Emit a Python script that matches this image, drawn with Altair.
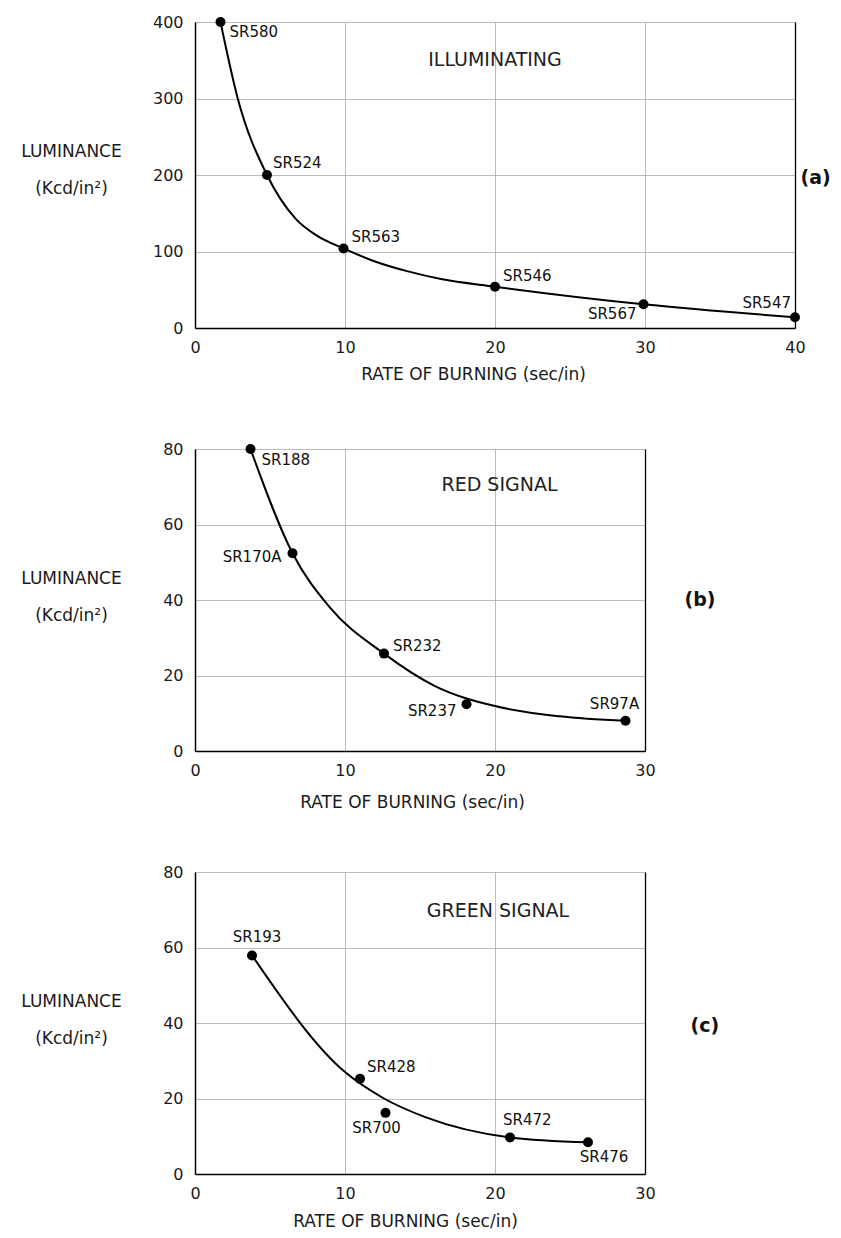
import altair as alt
import pandas as pd

FONT = "DejaVu Sans"

# ---------------- Panel (a): ILLUMINATING ----------------
a_names = ["SR580", "SR524", "SR563", "SR546", "SR567", "SR547"]
a_rate = [1.7, 4.8, 9.9, 20.0, 29.9, 40.0]
a_lum = [400, 200, 104, 54, 31, 14]
# smooth fitted curve
a_curve_rate = [1.7, 2.85, 4.8, 6.7, 8.1, 9.9, 12.0, 14.2, 16.4, 20.0, 29.9, 40.0]
a_curve_lum = [400, 300, 200, 143, 121, 104, 87, 74, 64, 54, 31, 14]

# ---------------- Panel (b): RED SIGNAL ----------------
b_names = ["SR188", "SR170A", "SR232", "SR237", "SR97A"]
b_rate = [3.7, 6.5, 12.6, 18.1, 28.7]
b_lum = [80, 52.4, 25.8, 12.4, 8.0]
b_curve_rate = [3.7, 6.5, 9.0, 12.6, 16.0, 20.0, 24.3, 28.7]
b_curve_lum = [80, 52.4, 38, 25.8, 17.2, 11.9, 9.2, 8.0]

# ---------------- Panel (c): GREEN SIGNAL ----------------
c_names = ["SR193", "SR428", "SR700", "SR472", "SR476"]
c_rate = [3.8, 11.0, 12.7, 21.0, 26.2]
c_lum = [57.9, 25.2, 16.2, 9.7, 8.4]
c_curve_rate = [3.8, 10.0, 12.6, 15.4, 21.0, 26.2]
c_curve_lum = [57.9, 27.0, 20, 15.0, 9.7, 8.4]

x_title = "RATE OF BURNING (sec/in)"
y_title = ["LUMINANCE", "(Kcd/in²)"]

# label placement (pixel offsets, alignment) -- styling only
a_place = {"SR580": (9, 10, "left"), "SR524": (6, -12, "left"), "SR563": (8, -11, "left"),
           "SR546": (8, -11, "left"), "SR567": (-7, 10, "right"), "SR547": (-4, -14, "right")}
b_place = {"SR188": (11, 11, "left"), "SR170A": (-11, 4, "right"), "SR232": (9, -8, "left"),
           "SR237": (-10, 7, "right"), "SR97A": (-11, -17, "center")}
c_place = {"SR193": (5, -18, "center"), "SR428": (7, -12, "left"), "SR700": (-9, 15, "center"),
           "SR472": (-7, -17, "left"), "SR476": (16, 15, "center")}

GRID = "#a9a9a9"


def panel(names, rate, lum, crate, clum, xmax, ymax, ystep, width, height,
          title_text, title_at, tag, tag_x, tag_y, xt_x, xt_y, place):
    pts = pd.DataFrame({"name": names, "rate": rate, "lum": lum})
    curve = pd.DataFrame({"rate": crate, "lum": clum})
    ttl = pd.DataFrame({"rate": [title_at[0]], "lum": [title_at[1]], "t": [title_text]})

    xs = alt.Scale(domain=[0, xmax], nice=False, zero=True)
    ys = alt.Scale(domain=[0, ymax], nice=False, zero=True)
    xvals = list(range(0, xmax + 1, 10))
    yvals = list(range(0, ymax + 1, ystep))

    xaxis = alt.Axis(values=xvals, title=x_title, titleX=xt_x, titleY=xt_y,
                     titleAlign="center", titleBaseline="middle", titleFont=FONT,
                     titleFontSize=17, titleFontWeight="normal", titleColor="#1a1a1a",
                     labelFont=FONT, labelFontSize=16, labelColor="#1a1a1a",
                     labelPadding=11, labelFlush=False, labelOverlap=False,
                     ticks=False, tickSize=0, domainColor="black", domainWidth=1.5,
                     grid=True, gridColor=GRID, gridWidth=0.8)
    yleft = alt.Axis(values=yvals, title=y_title, titleAngle=0, titleAlign="center",
                     titleBaseline="top", titleX=-124, titleY=121, titleLineHeight=37,
                     titleFont=FONT, titleFontSize=17, titleFontWeight="normal",
                     titleColor="#1a1a1a", labelFont=FONT, labelFontSize=16,
                     labelColor="#1a1a1a", labelPadding=12, labelFlush=False,
                     labelOverlap=False, ticks=False, tickSize=0,
                     domainColor="black", domainWidth=1.5,
                     grid=True, gridColor=GRID, gridWidth=0.8)
    yright = alt.Axis(orient="right", values=yvals, labels=False, ticks=False, tickSize=0,
                      grid=False, domain=True, domainColor="black", domainWidth=1.3,
                      title=tag, titleAngle=0, titleAlign="left", titleBaseline="middle",
                      titleX=tag_x, titleY=tag_y, titleFont=FONT, titleFontSize=19,
                      titleFontWeight="bold", titleColor="#111")

    x = alt.X("rate:Q", scale=xs, axis=xaxis)
    y_l = alt.Y("lum:Q", scale=ys, axis=yleft)
    y_r = alt.Y("lum:Q", scale=ys, axis=yright)
    y_n = alt.Y("lum:Q", scale=ys, axis=None)

    line = alt.Chart(curve).mark_line(interpolate="monotone", color="black",
                                      strokeWidth=2).encode(x=x, y=y_l)
    dots = alt.Chart(pts).mark_circle(size=100, color="black", opacity=1).encode(x=x, y=y_r)
    labels = []
    for n, (dx, dy, al) in place.items():
        labels.append(
            alt.Chart(pts).transform_filter(alt.datum.name == n)
            .mark_text(align=al, baseline="middle", dx=dx, dy=dy, font=FONT,
                       fontSize=15, color="#111")
            .encode(x=x, y=y_n, text="name:N")
        )
    head = alt.Chart(ttl).mark_text(align="center", baseline="middle", font=FONT,
                                    fontSize=19, color="#222").encode(x=x, y=y_n, text="t:N")
    return (alt.layer(line, dots, *labels, head)
            .resolve_axis(y="independent")
            .properties(width=width, height=height))


pa = panel(a_names, a_rate, a_lum, a_curve_rate, a_curve_lum, 40, 400, 100, 600, 306,
           "ILLUMINATING", (20.0, 350), "(a)", 5, 155, 278, 46, a_place)
pb = panel(b_names, b_rate, b_lum, b_curve_rate, b_curve_lum, 30, 80, 20, 450, 302,
           "RED SIGNAL", (20.3, 70.4), "(b)", 39, 150, 217, 51, b_place)
pc = panel(c_names, c_rate, c_lum, c_curve_rate, c_curve_lum, 30, 80, 20, 450, 302,
           "GREEN SIGNAL", (20.2, 69.8), "(c)", 45, 153, 210, 47, c_place)

chart = (alt.vconcat(pa, pb, pc, spacing=121, bounds="flush")
         .properties(padding={"left": 12, "top": 6, "right": 0, "bottom": 0},
                     background="white")
         .configure_view(stroke=None))

chart.save("out.html", embed_options={"renderer": "svg", "actions": False})
